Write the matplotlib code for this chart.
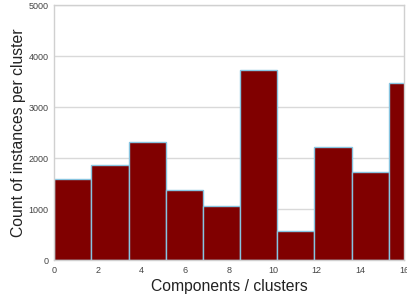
import numpy as np
import matplotlib.pyplot as plt

# histogram counts (10 bins over 0..17)
counts = [1595, 1865, 2320, 1370, 1060, 3725, 570, 2220, 1730, 3475]
bin_lo, bin_hi = 0, 17
y_ticks = [0, 1000, 2000, 3000, 4000, 5000]
x_ticks = [0, 2, 4, 6, 8, 10, 12, 14, 16]

plt.rcParams['font.family'] = ['Liberation Sans', 'DejaVu Sans']

edges = np.linspace(bin_lo, bin_hi, len(counts) + 1)
fig = plt.figure(figsize=(4.07, 3.0), dpi=100)
ax = fig.add_axes([0.133, 0.133, 0.86, 0.85])

ax.bar(edges[:-1], counts, width=np.diff(edges), align='edge',
       color='#800000', edgecolor='#87c4e0', linewidth=1.0, zorder=2)

ax.set_xlim(0, 16)
ax.set_ylim(0, 5000)
ax.set_xticks(x_ticks)
ax.set_yticks(y_ticks)
ax.yaxis.grid(True, color='#d9d9d9', linewidth=1.0, zorder=0)
ax.xaxis.grid(False)
ax.set_axisbelow(True)
for s in ax.spines.values():
    s.set_color('#d0d0d0')
    s.set_linewidth(1.0)
ax.tick_params(length=0, labelsize=6.5, labelcolor='#444444', pad=4)

ax.set_xlabel('Components / clusters', fontsize=11.3, color='#222222', labelpad=3)
ax.set_ylabel('Count of instances per cluster', fontsize=11.3, color='#222222', labelpad=2)

fig.savefig('out.png', dpi=100)
